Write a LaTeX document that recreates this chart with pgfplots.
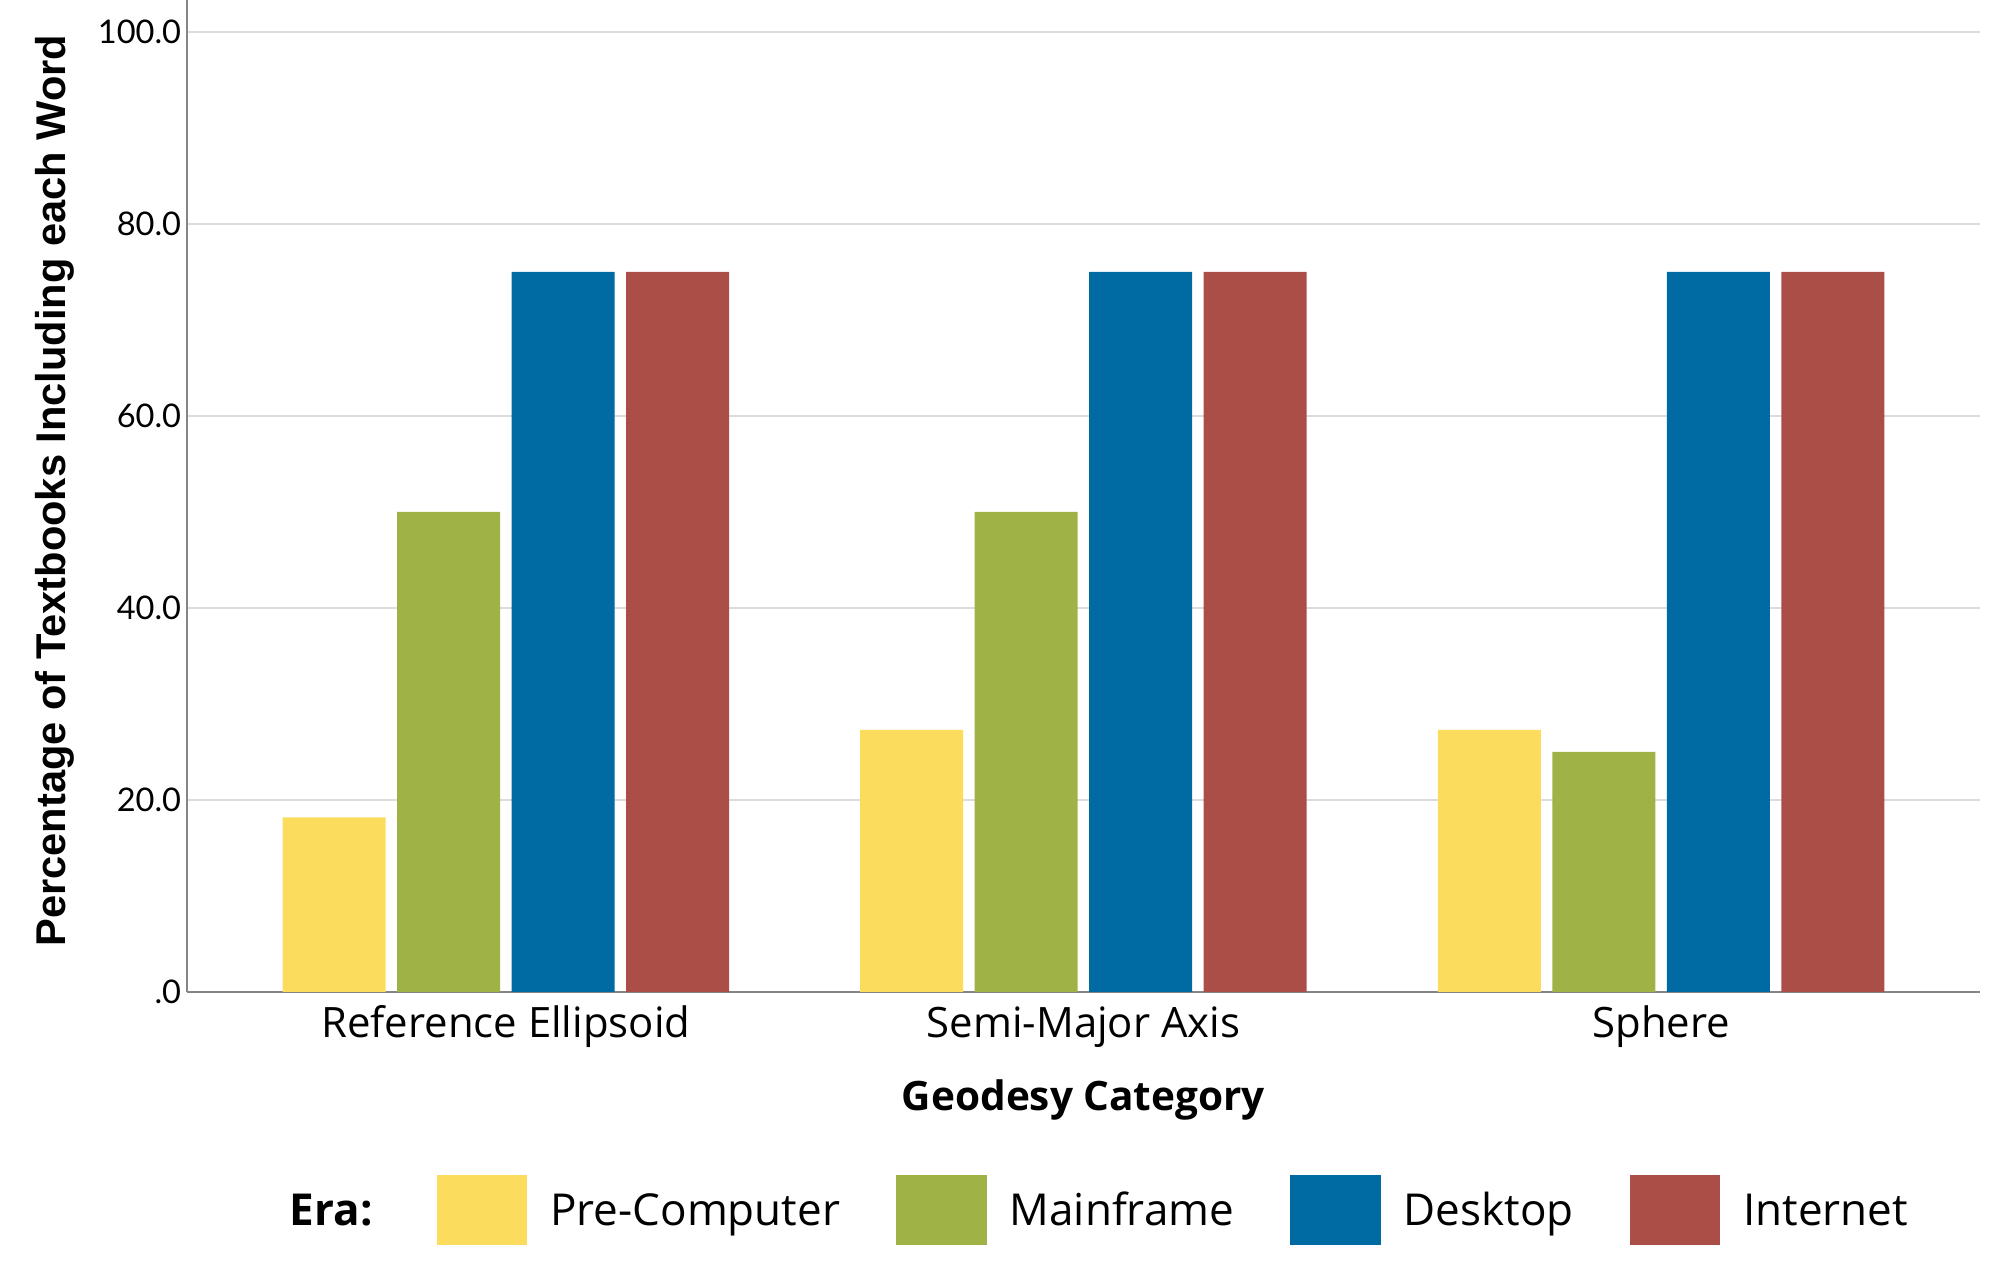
\documentclass[border=0pt]{standalone}
\usepackage{pgfplots}
\pgfplotsset{compat=1.18}
\usepackage{fontspec}
\setmainfont{Open Sans}
\newfontfamily\latofont{Lato}
\newfontfamily\arialfont{Liberation Sans}
\definecolor{cyellow}{HTML}{FCDC5D}
\definecolor{cgreen}{HTML}{9EB246}
\definecolor{cblue}{HTML}{006BA3}
\definecolor{cred}{HTML}{AC4E48}
\definecolor{cgrid}{HTML}{DCDCDC}
\definecolor{caxis}{HTML}{858585}
\begin{document}
\begin{tikzpicture}
\begin{axis}[
  at={(70.1pt,106.9pt)}, anchor=south west,
  scale only axis,
  width=672.4pt, height=372pt,
  xmin=-0.552, xmax=2.552,
  ymin=0, ymax=103.33,
  axis lines*=left,
  axis line style={caxis, line width=0.8pt},
  ymajorgrids, grid style={cgrid, line width=0.7pt},
  major tick length=0pt,
  xtick={0,1,2},
  xticklabels={Reference Ellipsoid, Semi-Major Axis, Sphere},
  ytick={0,20,40,60,80,100},
  yticklabels={.0,20.0,40.0,60.0,80.0,100.0},
  xticklabel style={font=\fontsize{15.7}{17}\selectfont, anchor=base, inner sep=0pt, yshift=-17pt},
  yticklabel style={font=\latofont\fontsize{12.2}{13}\selectfont, anchor=east, inner sep=0pt, xshift=-2pt},
  xlabel={Geodesy Category},
  xlabel style={font=\bfseries\fontsize{15.2}{17}\selectfont, at={(axis description cs:0.5,0)}, anchor=base, inner sep=0pt, yshift=-44.3pt, xshift=0pt},
  ylabel={Percentage of Textbooks Including each Word},
  ylabel style={font=\arialfont\bfseries\fontsize{15.6}{17}\selectfont, at={(axis description cs:0,0.5)}, anchor=center, inner sep=0pt, yshift=49.5pt, xshift=2pt},
  ybar, bar width=0.1783,
  legend columns=5,
  legend image code/.code={\fill[#1,draw=none] (0pt,-7.3pt) rectangle (34pt,18.7pt);},
  legend style={draw=none, fill=none, inner sep=0pt, font=\fontsize{16.5}{18}\selectfont,
    at={(axis description cs:0.0443,-0.2196)}, anchor=west,
    nodes={inner sep=0pt},
    cells={anchor=base west},
    /tikz/every odd column/.append style={column sep=8.6pt},
    /tikz/every even column/.append style={column sep=21pt}},
  clip=false,
]
\addlegendimage{empty legend}
\addlegendentry{\textbf{Era:}\hspace{3pt}\null}
\addplot[fill=cyellow, draw=none, bar shift=-0.2973] coordinates {(0,18.2) (1,27.3) (2,27.3)};
\addlegendentry{Pre-Computer}
\addplot[fill=cgreen, draw=none, bar shift=-0.0991] coordinates {(0,50) (1,50) (2,25)};
\addlegendentry{Mainframe}
\addplot[fill=cblue, draw=none, bar shift=0.0991] coordinates {(0,75) (1,75) (2,75)};
\addlegendentry{Desktop}
\addplot[fill=cred, draw=none, bar shift=0.2973] coordinates {(0,75) (1,75) (2,75)};
\addlegendentry{Internet}
\end{axis}
\pgfresetboundingbox
\useasboundingbox (0,0) rectangle (750pt,478.9pt);
\end{tikzpicture}
\end{document}
